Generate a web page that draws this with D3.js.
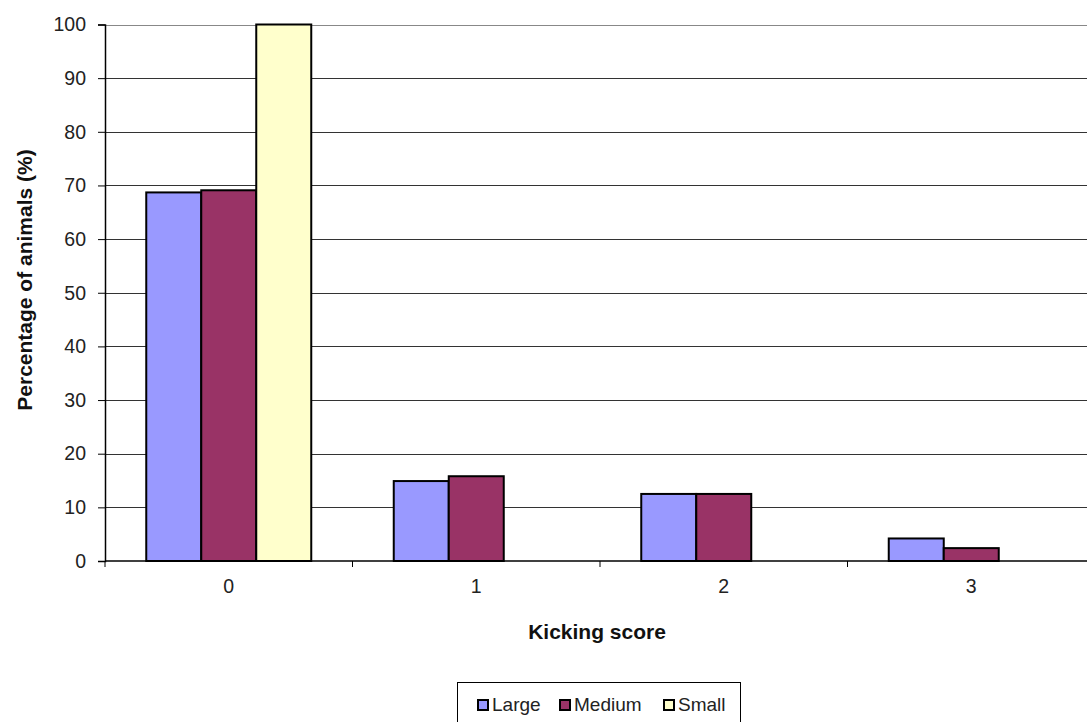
<!DOCTYPE html>
<html>
<head>
<meta charset="utf-8">
<script src="https://cdn.jsdelivr.net/npm/d3@7"></script>
<style>
  html, body { margin: 0; padding: 0; background: #fff; }
  svg { display: block; font-family: "Liberation Sans", Arial, sans-serif; }
</style>
</head>
<body>
<svg id="chart" width="1087" height="722"></svg>
<script>
// Kicking score distribution by animal size group
const categories = ["0", "1", "2", "3"];
const seriesNames = ["Large", "Medium", "Small"];
const largeValues = [68.7, 14.9, 12.5, 4.2];
const mediumValues = [69.1, 15.8, 12.5, 2.4];
const smallValues = [100, 0, 0, 0];
const yTicks = [0, 10, 20, 30, 40, 50, 60, 70, 80, 90, 100];
const seriesColors = ["#9999FF", "#993366", "#FFFFCC"];

const seriesValues = [largeValues, mediumValues, smallValues];

const svg = d3.select("#chart");
const plotLeft = 105, plotRight = 1095, plotTop = 24.5, plotBottom = 561;

const x = d3.scaleBand().domain(categories).range([plotLeft, plotRight]).paddingInner(0).paddingOuter(0);
const xs = d3.scaleBand().domain(seriesNames).range([0, x.bandwidth()]).paddingInner(0).paddingOuter(0.75);
const y = d3.scaleLinear().domain([0, 100]).range([plotBottom, plotTop]);

// horizontal gridlines
svg.append("g")
  .selectAll("line")
  .data(yTicks.filter(d => d > 0))
  .join("line")
  .attr("x1", plotLeft).attr("x2", plotRight)
  .attr("y1", d => Math.round(y(d)) + 0.5).attr("y2", d => Math.round(y(d)) + 0.5)
  .attr("stroke", d => d === 100 ? "#888" : "#333")
  .attr("stroke-width", 1);

// bars
const rows = [];
categories.forEach((c, i) => {
  seriesNames.forEach((s, j) => {
    rows.push({ cat: c, series: s, value: seriesValues[j][i], color: seriesColors[j] });
  });
});

svg.append("g")
  .selectAll("rect")
  .data(rows.filter(d => d.value > 0))
  .join("rect")
  .attr("x", d => x(d.cat) + xs(d.series))
  .attr("y", d => y(d.value))
  .attr("width", xs.bandwidth())
  .attr("height", d => y(0) - y(d.value))
  .attr("fill", d => d.color)
  .attr("stroke", "#000")
  .attr("stroke-width", 2);

// y axis
const yAxis = d3.axisLeft(y).tickValues(yTicks).tickSize(7).tickPadding(12);
const gy = svg.append("g").attr("transform", `translate(${plotLeft},0)`).call(yAxis);
gy.select(".domain").attr("stroke", "#000").attr("stroke-width", 1.5);
gy.selectAll(".tick line").attr("stroke", "#000");
gy.selectAll(".tick text")
  .attr("font-size", 19.5)
  .attr("fill", "#222")
  .attr("font-family", "'Liberation Sans', Arial, sans-serif");

// x axis: ticks sit on category boundaries
const gx = svg.append("g").attr("transform", `translate(0,${plotBottom})`);
gx.append("line")
  .attr("x1", plotLeft).attr("x2", plotRight).attr("y1", 0).attr("y2", 0)
  .attr("stroke", "#000").attr("stroke-width", 1.5);
const boundaries = categories.map(c => x(c)).concat([x(categories[categories.length - 1]) + x.bandwidth()]);
gx.selectAll("line.tk")
  .data(boundaries)
  .join("line")
  .attr("class", "tk")
  .attr("x1", d => d).attr("x2", d => d)
  .attr("y1", 0).attr("y2", 6)
  .attr("stroke", "#000");
gx.selectAll("text")
  .data(categories)
  .join("text")
  .attr("x", d => x(d) + x.bandwidth() / 2)
  .attr("y", 32)
  .attr("text-anchor", "middle")
  .attr("font-size", 19.5)
  .attr("fill", "#222")
  .text(d => d);

// axis titles
svg.append("text")
  .attr("x", 597).attr("y", 639)
  .attr("text-anchor", "middle")
  .attr("font-size", 21)
  .attr("font-weight", "bold")
  .attr("fill", "#111")
  .text("Kicking score");

svg.append("text")
  .attr("transform", "translate(32,280) rotate(-90)")
  .attr("text-anchor", "middle")
  .attr("font-size", 21)
  .attr("font-weight", "bold")
  .attr("fill", "#111")
  .text("Percentage of animals (%)");

// legend
const legend = svg.append("g");
legend.append("rect")
  .attr("x", 457.5).attr("y", 682.5)
  .attr("width", 283).attr("height", 45)
  .attr("fill", "#fff").attr("stroke", "#000").attr("stroke-width", 1);
const legendX = [478, 560, 664];
const items = legend.selectAll("g.item")
  .data(seriesNames)
  .join("g")
  .attr("class", "item")
  .attr("transform", (d, i) => `translate(${legendX[i]},0)`);
items.append("rect")
  .attr("x", 0).attr("y", 700)
  .attr("width", 10).attr("height", 10)
  .attr("fill", (d, i) => seriesColors[i])
  .attr("stroke", "#000").attr("stroke-width", 2);
items.append("text")
  .attr("x", 14).attr("y", 711)
  .attr("font-size", 19)
  .attr("fill", "#222")
  .text(d => d);
</script>
</body>
</html>
